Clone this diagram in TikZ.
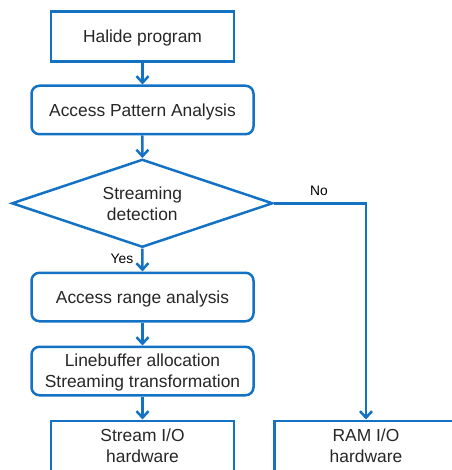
\documentclass[tikz,border=0pt]{standalone}
\usepackage{fontspec}
\setmainfont{Liberation Sans}
\usetikzlibrary{arrows.meta,shapes.geometric}
\definecolor{flowblue}{RGB}{20,114,196}
\definecolor{txt}{RGB}{38,38,38}
\tikzset{
  base/.style={draw=flowblue, line width=2.5pt, text=txt, align=center,
    font=\fontsize{17.4}{21}\selectfont, inner sep=0pt, text depth=0pt},
  plainbox/.style={base, rectangle, minimum width=183pt, minimum height=50pt},
  roundbox/.style={base, rectangle, rounded corners=8pt, minimum width=222pt, minimum height=48.5pt},
  decision/.style={base, diamond, aspect=2.97, minimum width=261pt, minimum height=88pt},
  flow/.style={draw=flowblue, line width=2.5pt, -{Straight Barb[length=6.5pt,width=12pt,line width=2.5pt]}},
  tag/.style={text=black, font=\fontsize{13.8}{16}\selectfont, inner sep=0pt}
}
\begin{document}
\begin{tikzpicture}[x=1pt,y=1pt]
  \useasboundingbox (0,0) rectangle (451,-470);
  \node[plainbox] (halide) at (142.5,-36.5) {Halide program};
  \node[roundbox] (pattern) at (142.5,-110) {Access Pattern Analysis};
  \node[decision] (detect) at (142.3,-203.3) {Streaming\\detection};
  \node[roundbox] (range) at (142.5,-297) {Access range analysis};
  \node[roundbox] (linebuf) at (142.5,-371) {Linebuffer allocation\\Streaming transformation};
  \node[plainbox, anchor=north] (stream) at (142.5,-419.5) {Stream I/O\\hardware};
  \node[plainbox, anchor=north] (ram) at (366,-419.5) {RAM I/O\\hardware};
  \coordinate (bend) at (366,-203.3);

  \draw[flow] (halide) -- (pattern);
  \draw[flow] (pattern) -- (detect);
  \draw[flow] (detect.south) -- (range.north);
  \draw[flow] (range) -- (linebuf);
  \draw[flow] (linebuf) -- (stream);
  \draw[flow] (detect.east) -- (bend) -- (ram.north);

  \node[tag] (yes) at (122,-258.5) {Yes};
  \node[tag] (no) at (319,-190.5) {No};
\end{tikzpicture}
\end{document}
